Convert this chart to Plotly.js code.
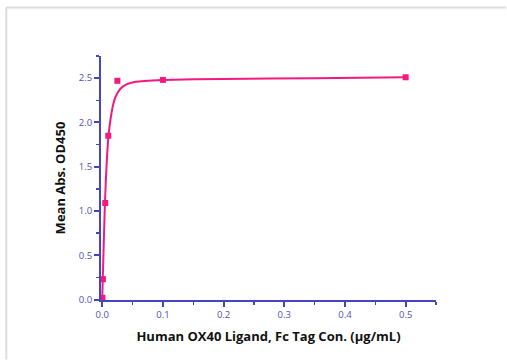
<!DOCTYPE html>
<html><head><meta charset="utf-8">
<script src="https://cdn.plot.ly/plotly-3.0.1.min.js"></script>
<style>html,body{margin:0;padding:0;background:#fff}#c{width:507px;height:360px}</style>
</head><body><div id="c"></div>
<script>
// Measured points
const concX = [0.5, 0.1, 0.025, 0.01, 0.005, 0.0012, 0.0004];
const meanOD = [2.51, 2.48, 2.47, 1.85, 1.09, 0.23, 0.02];
// Fitted curve
const fitX = [0, 0.001, 0.002, 0.004, 0.006, 0.008, 0.01, 0.014, 0.018, 0.022, 0.03, 0.04, 0.055, 0.075, 0.1, 0.2, 0.35, 0.5];
const fitY = [0, 0.25, 0.5, 0.98, 1.35, 1.62, 1.82, 2.05, 2.2, 2.29, 2.38, 2.43, 2.46, 2.47, 2.48, 2.49, 2.5, 2.51];
const xTicks = [0, 0.1, 0.2, 0.3, 0.4, 0.5];
const xTickText = ['0.0', '0.1', '0.2', '0.3', '0.4', '0.5'];
const yTicks = [0, 0.5, 1, 1.5, 2, 2.5];
const yTickText = ['0.0', '0.5', '1.0', '1.5', '2.0', '2.5'];

const pink = '#f2197f';
const axisCol = '#4444c4';
const L = 100.5, R = 436.5, T = 56, B = 300.5, W = 507, H = 360;
const px = v => (v - L) / (R - L);
const py = v => (B - v) / (B - T);

const traces = [
  {x: fitX, y: fitY, mode: 'lines', line: {color: pink, width: 2, shape: 'spline', smoothing: 0.6}, hoverinfo: 'skip'},
  {x: concX, y: meanOD, mode: 'markers', marker: {color: pink, symbol: 'square', size: 6}}
];
const axBase = {
  showgrid: false, zeroline: false, showline: true, linecolor: axisCol, linewidth: 2,
  ticks: 'outside', ticklen: 5, tickwidth: 2, tickcolor: axisCol,
  tickfont: {family: 'Open Sans, sans-serif', size: 9.5, color: '#5252b8'},
  minor: {ticks: 'outside', ticklen: 3, tickwidth: 1.5, tickcolor: axisCol}
};
const titleFont = {family: 'Open Sans, sans-serif', size: 13, color: '#111', weight: 'bold'};
const layout = {
  width: W, height: H, showlegend: false,
  margin: {l: L, r: W - R, t: T, b: H - B},
  paper_bgcolor: '#fff', plot_bgcolor: '#fff',
  xaxis: Object.assign({}, axBase, {range: [-0.002, 0.55], tickvals: xTicks, ticktext: xTickText,
    minor: Object.assign({}, axBase.minor, {dtick: 0.05, tick0: 0}),
    title: {text: 'Human OX40 Ligand, Fc Tag Con. (μg/mL)', standoff: 11, font: titleFont}}),
  yaxis: Object.assign({}, axBase, {range: [-0.005, 2.75], tickvals: yTicks, ticktext: yTickText,
    minor: Object.assign({}, axBase.minor, {dtick: 0.25, tick0: 0}),
    title: {text: 'Mean Abs. OD450', standoff: 10, font: titleFont}}),
  shapes: [
    {type: 'line', xref: 'paper', yref: 'paper', x0: px(5.5), x1: px(5.5), y0: py(7.5), y1: py(360), line: {color: '#dcdcdc', width: 2}},
    {type: 'line', xref: 'paper', yref: 'paper', x0: px(5.5), x1: px(507), y0: py(7.5), y1: py(7.5), line: {color: '#dcdcdc', width: 2}}
  ]
};
Plotly.newPlot('c', traces, layout, {staticPlot: true, displayModeBar: false});
</script></body></html>
